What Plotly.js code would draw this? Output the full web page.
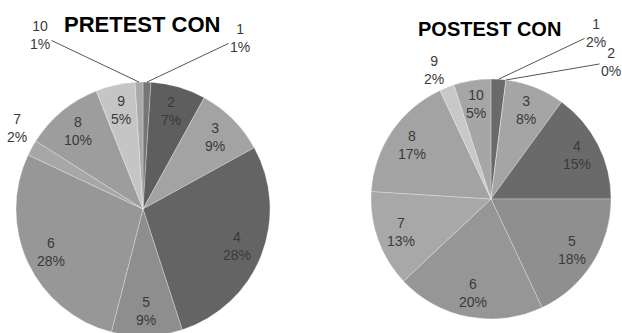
<!DOCTYPE html>
<html>
<head>
<meta charset="utf-8">
<script src="https://cdn.plot.ly/plotly-3.0.1.min.js"></script>
<style>
  html, body { margin: 0; padding: 0; background: #fff; overflow: hidden; }
  #chart { width: 622px; height: 350px; }
</style>
</head>
<body>
<div id="chart"></div>
<script>
// ---- data ----
const categories = ['1', '2', '3', '4', '5', '6', '7', '8', '9', '10'];
const pretestValues = [1, 7, 9, 28, 9, 28, 2, 10, 5, 1];
const posttestValues = [2, 0, 8, 15, 18, 20, 13, 17, 2, 5];
const pretestTitle = 'PRETEST CON';
const posttestTitle = 'POSTEST CON';

// ---- style ----
const pretestColors = ['#767676', '#5e5e5e', '#a3a3a3', '#646464', '#8e8e8e',
                       '#979797', '#a7a7a7', '#9d9d9d', '#c5c5c5', '#a9a9a9'];
const posttestColors = ['#6a6a6a', '#7a7a7a', '#a5a5a5', '#6a6a6a', '#8f8f8f',
                        '#969696', '#a8a8a8', '#a3a3a3', '#c8c8c8', '#a6a6a6'];
const W = 622, H = 350;
const labelFont = { family: 'Liberation Sans, Arial, sans-serif', size: 14, color: '#3a3a3a' };

const pies = [
  { values: pretestValues, colors: pretestColors, title: pretestTitle,
    cx: 143, cy: 209, r: 127, titleX: 142, titleY: 25, titleSize: 22,
    // outside labels: index -> text centre (pixels), leader line or not
    outside: { 0: [240, 38, true], 6: [17, 128, false], 9: [40, 35, true] } },
  { values: posttestValues, colors: posttestColors, title: posttestTitle,
    cx: 491, cy: 199, r: 120, titleX: 489, titleY: 29, titleSize: 20,
    outside: { 0: [596, 33, true], 1: [611, 62, true], 8: [434, 70, false] } }
];

const px2x = p => p / W;
const py2y = p => 1 - p / H;

function midAngle(values, i) {
  const total = values.reduce((a, b) => a + b, 0);
  let cum = 0;
  for (let k = 0; k < i; k++) cum += values[k];
  return (cum + values[i] / 2) / total * 2 * Math.PI;
}

const data = [];
const annotations = [];
pies.forEach(p => {
  data.push({
    type: 'pie',
    labels: categories,
    values: p.values,
    sort: false,
    direction: 'clockwise',
    rotation: 0,
    textinfo: 'none',
    hoverinfo: 'none',
    marker: { colors: p.colors, line: { color: 'rgba(255,255,255,0.35)', width: 0.8 } },
    domain: { x: [px2x(p.cx - p.r), px2x(p.cx + p.r)],
              y: [py2y(p.cy + p.r), py2y(p.cy - p.r)] },
    showlegend: false
  });
  annotations.push({
    xref: 'paper', yref: 'paper', x: px2x(p.titleX), y: py2y(p.titleY),
    text: '<b>' + p.title + '</b>', showarrow: false,
    font: { family: 'Liberation Sans, Arial, sans-serif', size: p.titleSize, color: '#000' },
    xanchor: 'center', yanchor: 'middle'
  });
  p.values.forEach((v, i) => {
    const a = midAngle(p.values, i);
    const txt = categories[i] + '<br>' + v + '%';
    const o = p.outside[i];
    if (o) {
      if (o[2]) {
        const tx = p.cx + p.r * Math.sin(a);
        const ty = p.cy - p.r * Math.cos(a);
        annotations.push({
          xref: 'paper', yref: 'paper', x: px2x(tx), y: py2y(ty),
          ax: o[0] - tx, ay: o[1] - ty,
          text: txt, showarrow: true, arrowhead: 0, arrowwidth: 1,
          arrowcolor: '#555', standoff: 0, startstandoff: 0,
          font: labelFont, align: 'center'
        });
      } else {
        annotations.push({
          xref: 'paper', yref: 'paper', x: px2x(o[0]), y: py2y(o[1]),
          text: txt, showarrow: false, font: labelFont, align: 'center',
          xanchor: 'center', yanchor: 'middle'
        });
      }
    } else {
      const lx = p.cx + 0.8 * p.r * Math.sin(a);
      const ly = p.cy - 0.8 * p.r * Math.cos(a);
      annotations.push({
        xref: 'paper', yref: 'paper', x: px2x(lx), y: py2y(ly),
        text: txt, showarrow: false, font: labelFont, align: 'center',
        xanchor: 'center', yanchor: 'middle'
      });
    }
  });
});

const layout = {
  width: W, height: H,
  margin: { l: 0, r: 0, t: 0, b: 0 },
  paper_bgcolor: '#fff',
  plot_bgcolor: '#fff',
  annotations: annotations
};

Plotly.newPlot('chart', data, layout, { staticPlot: true, displayModeBar: false });
</script>
</body>
</html>
